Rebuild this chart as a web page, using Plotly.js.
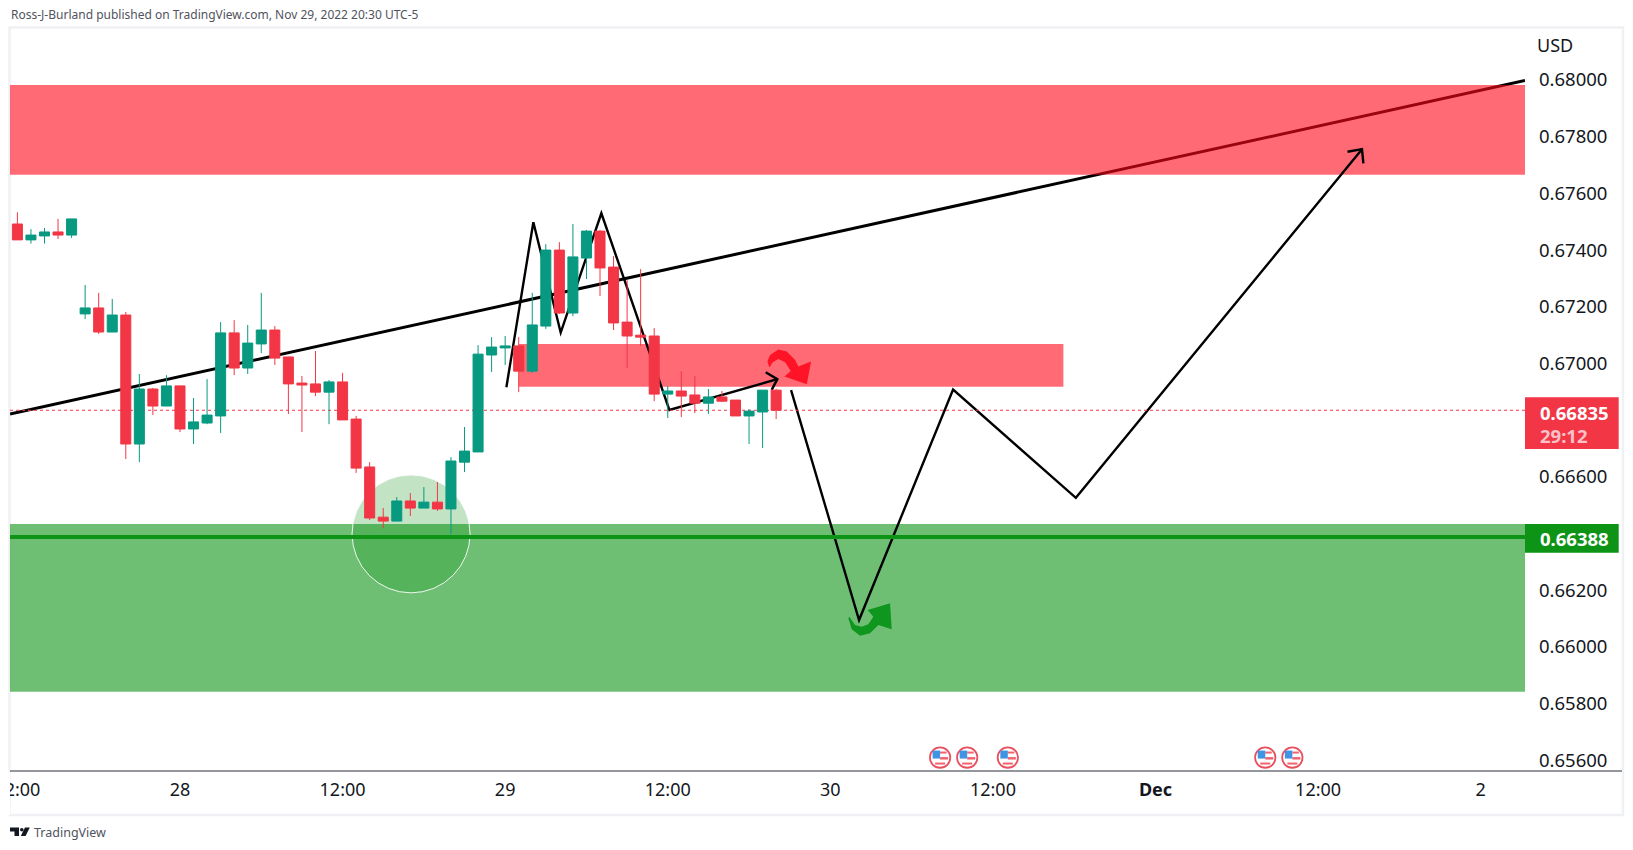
<!DOCTYPE html>
<html><head><meta charset="utf-8">
<script src="https://cdn.plot.ly/plotly-3.0.1.min.js"></script>
<style>html,body{margin:0;padding:0;background:#fff;overflow:hidden}#c{width:1633px;height:850px}</style>
</head><body><div id="c"></div>
<script>
// Hourly candles
const barIndex = [0,1,2,3,4,5,6,7,8,9,10,11,12,13,14,15,16,17,18,19,20,21,22,23,24,25,26,27,28,29,30,31,32,33,34,35,36,37,38,39,40,41,42,43,44,45,46,47,48,49,50,51,52,53,54,55,56];
const openP = [.67492,.67436,.67450,.67464,.67453,.67175,.67196,.67111,.67171,.66716,.66910,.66850,.66921,.66769,.66790,.66815,.67108,.66984,.67069,.67118,.67023,.66931,.66928,.66899,.66935,.66804,.66635,.66458,.66444,.66515,.66490,.66511,.66487,.66652,.66688,.67030,.67055,.67062,.66973,.67132,.67400,.67178,.67372,.67467,.67340,.67146,.67100,.67097,.66892,.66903,.66889,.66860,.66882,.66871,.66815,.66829,.66906];
const highP = [.67533,.67474,.67478,.67510,.67510,.67277,.67249,.67228,.67182,.66963,.66914,.66959,.66921,.66878,.66945,.67146,.67153,.67136,.67249,.67132,.67024,.66956,.67044,.66942,.66967,.66815,.66652,.66490,.66529,.66543,.66564,.66582,.66670,.66776,.67065,.67093,.67097,.67093,.67249,.67421,.67428,.67492,.67471,.67471,.67379,.67294,.67333,.67125,.66921,.66973,.66956,.66910,.66903,.66871,.66839,.66906,.66910];
const lowP = [.67436,.67423,.67423,.67439,.67443,.67157,.67104,.67111,.66663,.66652,.66818,.66850,.66758,.66716,.66786,.66755,.66959,.66963,.67037,.66995,.66822,.66758,.66885,.66786,.66801,.66614,.66448,.66419,.66444,.66462,.66490,.66480,.66398,.66617,.66688,.66970,.66995,.66899,.66967,.67122,.67175,.67167,.67298,.67238,.67118,.66984,.67062,.66867,.66808,.66811,.66825,.66822,.66864,.66815,.66716,.66702,.66804];
const closeP = [.67436,.67453,.67464,.67453,.67510,.67196,.67111,.67171,.66716,.66910,.66850,.66921,.66769,.66794,.66818,.67108,.66984,.67072,.67118,.67019,.66928,.66924,.66899,.66935,.66801,.66631,.66455,.66444,.66515,.66490,.66511,.66487,.66656,.66691,.67033,.67058,.67062,.66973,.67136,.67400,.67178,.67376,.67467,.67337,.67143,.67097,.67093,.66892,.66903,.66885,.66860,.66882,.66867,.66815,.66832,.66906,.66835];

// Axis labels
const xTickBars = [0,12,24,36,48,60,72,84,96,108];
const xTickText = ["12:00","28","12:00","29","12:00","30","12:00","<b>Dec</b>","12:00","2"];
const yTickVals = [.68,.678,.676,.674,.672,.67,.666,.662,.66,.658,.656];
const yTickText = ["0.68000","0.67800","0.67600","0.67400","0.67200","0.67000","0.66600","0.66200","0.66000","0.65800","0.65600"];

// Horizontal levels and zones (prices)
const lastPrice = 0.66835, supportPrice = 0.66388;
const upperZone = [0.67666, 0.67982], middleZone = [0.66918, 0.67069], lowerZone = [0.65842, 0.66434];
const middleZoneBars = [37.0, 77.2];
const circleBars = [24.7, 33.41], circlePrices = [0.66191, 0.66607];
const eventBars = [68.1, 70.1, 73.1, 92.1, 94.1], eventPrice = 0.65610;

// Hand-drawn lines on the chart: bars and prices
const trendBars = [-0.54, 111.27], trendPrices = [0.66822, 0.67998];
const patternBars = [36.09, 38.08, 40.10, 43.10, 48.12, 56.09], patternPrices = [.66916, .67498, .67109, .67530, .66836, .66945];
const patternHeadBars = [55.23, 56.09, 55.67], patternHeadPrices = [.66969, .66945, .66907];
const forecastBars = [57.10, 62.12, 69.06, 78.12, 99.24], forecastPrices = [.66906, .66095, .66908, .66526, .67756];
const forecastHeadBars = [98.17, 99.24, 99.34], forecastHeadPrices = [.67747, .67756, .67706];

// Curved arrow glyphs, outline in pixels around their anchor
const redArrowDX = [-17.7,-15,-6.7,1.7,10,13.3,26,21.7,-0.7,5.7,0,-6.7,-12.3,-15.7];
const redArrowDY = [-3.3,-10,-15.3,-13.3,-5,1.7,-3.3,19.3,11.7,6,-2.7,-6,-2.7,2.7];
const greenArrowDX = [-21.7,-18.3,-10,0,8.3,21.7,20,-2.3,3.3,-1.7,-8.3,-15,-20.7];
const greenArrowDY = [-1.7,9.3,15.7,13.3,5,9.3,-16.7,-10,-3.3,4.3,6.7,5,-3.3];

const RED = '#F23645', GREEN = '#089981', INK = '#131722', FONT = '"Noto Sans", sans-serif';
const PL = 10, PR = 1525, PT = 28, PB = 771;
const xRange = [-0.546, 111.27], yRange = [0.655626, 0.681834];
const xp = v => (v - PL) / (PR - PL), yp = v => (PB - v) / (PB - PT);

const poly = (xs, ys, closed) => xs.map((x, i) => (i ? 'L' : 'M') + x + ' ' + ys[i]).join(' ') + (closed ? ' Z' : '');
const band = (y, x0, x1, fill) => ({type:'rect', layer:'below', xref:'x', yref:'y', x0, x1, y0:y[0], y1:y[1], fillcolor:fill, line:{width:0}});
const dataLine = (xs, ys, w) => ({type:'path', layer:'below', xref:'x', yref:'y', path:poly(xs, ys), line:{color:'#000', width:w}});
const pageRect = (x0, y0, x1, y1, o) => Object.assign({type:'rect', xref:'paper', yref:'paper', x0:xp(x0), x1:xp(x1), y0:yp(y0), y1:yp(y1), line:{width:0}, layer:'above'}, o);
const glyph = (dx, dy, bar, price, fill) => ({type:'path', layer:'above', xref:'x', yref:'y', xsizemode:'pixel', ysizemode:'pixel', xanchor:bar, yanchor:price, path:poly(dx, dy.map(v => -v), true), fillcolor:fill, line:{width:0}});

const shapes = [
  pageRect(PL - 0.5, PT - 0.5, 1623, 815, {layer:'below', line:{color:'#EFF1F4', width:2.5}}),
  dataLine(trendBars, trendPrices, 3),
  band(upperZone, xRange[0], xRange[1], 'rgba(255,7,25,0.6)'),
  band(lowerZone, xRange[0], xRange[1], 'rgba(13,147,22,0.6)'),
  band(middleZone, middleZoneBars[0], middleZoneBars[1], 'rgba(255,7,25,0.6)'),
  {type:'circle', layer:'below', xref:'x', yref:'y', x0:circleBars[0], x1:circleBars[1], y0:circlePrices[0], y1:circlePrices[1], fillcolor:'rgba(13,147,22,0.25)', line:{color:'rgba(255,255,255,0.9)', width:1}},
  dataLine(patternBars, patternPrices, 2.4),
  dataLine(patternHeadBars, patternHeadPrices, 2.4),
  dataLine(forecastBars, forecastPrices, 2.4),
  dataLine(forecastHeadBars, forecastHeadPrices, 2.4),
  {type:'line', layer:'below', xref:'x', yref:'y', x0:xRange[0], x1:xRange[1], y0:supportPrice, y1:supportPrice, line:{color:'#0D9316', width:4}},
  {type:'line', layer:'below', xref:'x', yref:'y', x0:xRange[0], x1:xRange[1], y0:lastPrice, y1:lastPrice, line:{color:RED, width:1, dash:'dot'}},
  glyph(redArrowDX, redArrowDY, 56.66, 0.66995, '#FF1427'),
  glyph(greenArrowDX, greenArrowDY, 62.93, 0.66095, '#0F961E'),
  // page chrome
  pageRect(0, 771.5, 10, 815, {fillcolor:'#fff'}),
  {type:'line', layer:'above', xref:'paper', yref:'paper', x0:xp(10), x1:xp(1622), y0:yp(771), y1:yp(771), line:{color:'#2A2E39', width:1.2}},
  pageRect(1525, 397.3, 1618.7, 449, {fillcolor:RED}),
  pageRect(1525, 524, 1618.7, 552.7, {fillcolor:'#0D9316'}),
  // logo
  {type:'path', layer:'above', xref:'paper', yref:'paper', fillcolor:'#131722', line:{width:0},
   path:poly([10,19,19,14.5,14.5,10].map(xp), [827.5,827.5,836,836,831.5,831.5].map(yp), true)},
  {type:'circle', layer:'above', xref:'paper', yref:'paper', fillcolor:'#131722', line:{width:0}, x0:xp(20), x1:xp(23.6), y0:yp(831.6), y1:yp(828)},
  {type:'path', layer:'above', xref:'paper', yref:'paper', fillcolor:'#131722', line:{width:0},
   path:poly([25,29.8,25.6,20.8].map(xp), [827.5,827.5,836,836].map(yp), true)}
];

// Event badges: small US-flag discs
eventBars.forEach(b => {
  const g = {xref:'x', yref:'y', xsizemode:'pixel', ysizemode:'pixel', xanchor:b, yanchor:eventPrice, layer:'above'};
  shapes.push(Object.assign({type:'circle', x0:-10.2, x1:10.2, y0:-10.2, y1:10.2, fillcolor:'#fff', line:{color:'#E8505E', width:1.8}}, g));
  shapes.push(Object.assign({type:'rect', x0:0, x1:6.5, y0:4, y1:6, fillcolor:'#F0636F', line:{width:0}}, g));
  shapes.push(Object.assign({type:'rect', x0:0, x1:8, y0:-2, y1:0.5, fillcolor:'#F0636F', line:{width:0}}, g));
  shapes.push(Object.assign({type:'rect', x0:-5, x1:5, y0:-7, y1:-5, fillcolor:'#F0636F', line:{width:0}}, g));
  shapes.push(Object.assign({type:'rect', x0:-7.5, x1:0, y0:-1, y1:7, fillcolor:'#3F94E4', line:{width:0}}, g));
});

const label = (text, x, y, size, color, extra) => Object.assign({xref:'paper', yref:'paper', x:xp(x), y:yp(y), text, showarrow:false, xanchor:'left', yanchor:'middle', align:'left', font:{family:FONT, size, color}, borderpad:0, captureevents:false}, extra);
const annotations = [
  label('Ross-J-Burland published on TradingView.com, Nov 29, 2022 20:30 UTC-5', 10, 14.5, 12, '#50535E'),
  label('USD', 1535.5, 45, 18, INK),
  label('<b>0.66835</b>', 1538.5, 412, 18.5, '#fff'),
  label('<b>29:12</b>', 1538.5, 435, 18.5, '#FBC1C7'),
  label('<b>0.66388</b>', 1538.5, 538, 18.5, '#fff'),
  label('TradingView', 33, 832.5, 12.5, '#50535E')
];

Plotly.newPlot('c', [{
  type:'candlestick', x:barIndex, open:openP, high:highP, low:lowP, close:closeP,
  increasing:{line:{color:GREEN, width:1}, fillcolor:GREEN},
  decreasing:{line:{color:RED, width:1}, fillcolor:RED},
  whiskerwidth:0, hoverinfo:'skip', showlegend:false
}], {
  width:1633, height:850, showlegend:false, paper_bgcolor:'#fff', plot_bgcolor:'#fff',
  margin:{l:PL, r:1633 - PR, t:PT, b:850 - PB, pad:0}, boxgap:0.26, boxgroupgap:0, hovermode:false, dragmode:false,
  xaxis:{type:'linear', range:xRange, rangeslider:{visible:false}, showgrid:false, zeroline:false, showline:false, ticks:'', tickmode:'array', tickvals:xTickBars, ticktext:xTickText, tickfont:{family:FONT, size:18, color:INK}, ticklabelstandoff:6, ticklabeloverflow:'allow'},
  yaxis:{range:yRange, side:'right', showgrid:false, zeroline:false, showline:false, ticks:'', tickmode:'array', tickvals:yTickVals, ticktext:yTickText, tickfont:{family:FONT, size:18.5, color:INK}, ticklabelstandoff:13, ticklabeloverflow:'allow'},
  shapes, annotations
}, {displayModeBar:false, staticPlot:true});
</script></body></html>
